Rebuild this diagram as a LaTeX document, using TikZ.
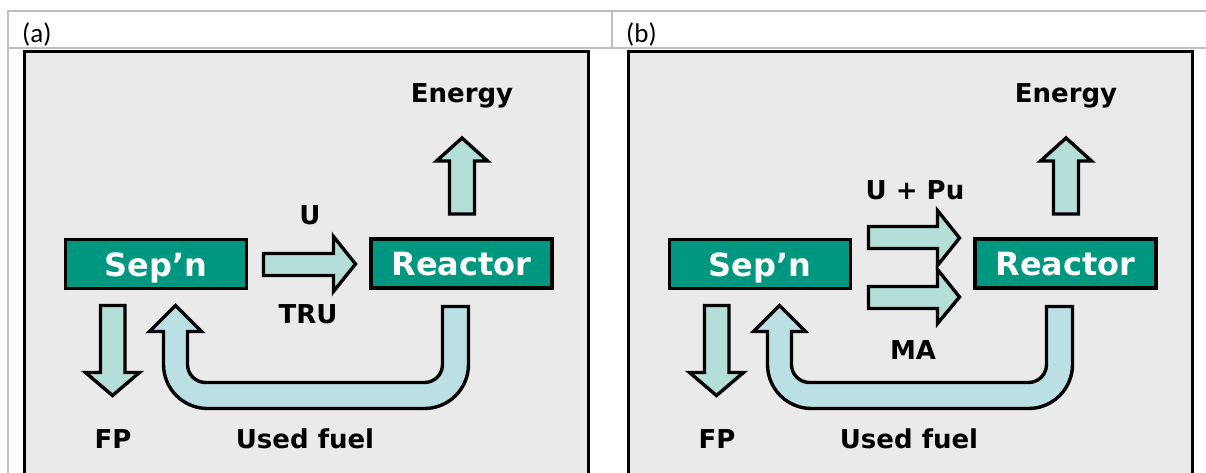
\documentclass[tikz,border=0pt]{standalone}
\usepackage{fontspec}
\setmainfont{DejaVu Sans}
\newfontfamily\calib{Carlito}
\definecolor{tealbox}{RGB}{0,151,129}
\definecolor{mint}{RGB}{179,223,216}
\definecolor{fuelc}{RGB}{187,224,228}
\definecolor{panelbg}{RGB}{234,234,234}
\definecolor{gridc}{RGB}{191,191,191}
\tikzset{
  blockarrow/.style={draw=black, line width=3.4pt, fill=mint},
  fuelarrow/.style={draw=black, line width=3.4pt, fill=fuelc},
  unitbox/.style={draw=black, line width=3.4pt, fill=tealbox, text=white,
    font=\fontsize{32}{32}\selectfont\bfseries, minimum width=181pt,
    minimum height=49pt, text height=24pt, text depth=0pt},
  lab/.style={font=\fontsize{26}{26}\selectfont\bfseries, anchor=base, inner sep=0pt},
  panelframe/.style={draw=black, line width=3pt, fill=panelbg},
  gridline/.style={draw=gridc, line width=2pt},
  celllab/.style={font=\calib\fontsize{27}{27}\selectfont, anchor=base west, inner sep=0pt}
}
\newcommand\panelcommon[1]{%
  \draw[panelframe] (24.5,51) rectangle (588,490);
  \node[unitbox] (sep#1) at (156,264) {Sep’n};
  \node[unitbox] (rea#1) at (461.5,263.5) {Reactor};
  % energy arrow
  \draw[blockarrow] (449.5,214) -- (449.5,161) -- (436.5,161) -- (462,138)
    -- (487.5,161) -- (474.5,161) -- (474.5,214) -- cycle;
  % FP arrow
  \draw[blockarrow] (100.5,305.5) -- (125,305.5) -- (125,372.5) -- (139.5,372.5)
    -- (112.5,395.5) -- (85.5,372.5) -- (100.5,372.5) -- cycle;
  % used fuel arrow
  \draw[fuelarrow] (175.5,305.5) -- (201.5,331.5) -- (187.5,331.5) -- (187.5,364.5)
    arc[start angle=180,end angle=90,radius=18] -- (424.5,382.5)
    arc[start angle=90,end angle=0,radius=18] -- (442.5,306.5) -- (468.5,306.5)
    -- (468.5,364.5) arc[start angle=0,end angle=90,radius=44]
    -- (207.5,408.5) arc[start angle=90,end angle=180,radius=44]
    -- (163.5,331.5) -- (149.5,331.5) -- cycle;
  \node[lab] (energy#1) at (462,102) {Energy};
  \node[lab] (fp#1) at (113,448) {FP};
  \node[lab] (used#1) at (305,448) {Used fuel};
}
\begin{document}
\begin{tikzpicture}[x=1pt,y=-1pt]
  \useasboundingbox (0,0) rectangle (1206,472);
  \clip (0,0) rectangle (1206,472);
  % table grid
  \draw[gridline] (8,473) -- (8,11) -- (1207,11);
  \draw[gridline] (8,48) -- (1207,48);
  \draw[gridline] (612,11) -- (612,48);
  \node[celllab] (cella) at (22,42) {(a)};
  \node[celllab] (cellb) at (626,42) {(b)};
  % panel (a)
  \panelcommon{a}
  \draw[blockarrow] (263.5,253.5) -- (333.5,253.5) -- (333.5,236.5) -- (355.5,264)
    -- (333.5,291.5) -- (333.5,275.5) -- (263.5,275.5) -- cycle;
  \node[lab] (ulab) at (310,224) {U};
  \node[lab] (trulab) at (308,323) {TRU};
  % panel (b)
  \begin{scope}[xshift=604pt]
    \panelcommon{b}
    \draw[blockarrow] (264.5,226.5) -- (333.5,226.5) -- (333.5,210.5) -- (355.5,238)
      -- (333.5,265.5) -- (333.5,248.5) -- (264.5,248.5) -- cycle;
    \draw[blockarrow] (264.5,286.5) -- (333.5,286.5) -- (333.5,269.5) -- (355.5,297)
      -- (333.5,323.5) -- (333.5,308.5) -- (264.5,308.5) -- cycle;
    \node[lab] (upulab) at (311,199) {U + Pu};
    \node[lab] (malab) at (309,359) {MA};
  \end{scope}
\end{tikzpicture}
\end{document}
